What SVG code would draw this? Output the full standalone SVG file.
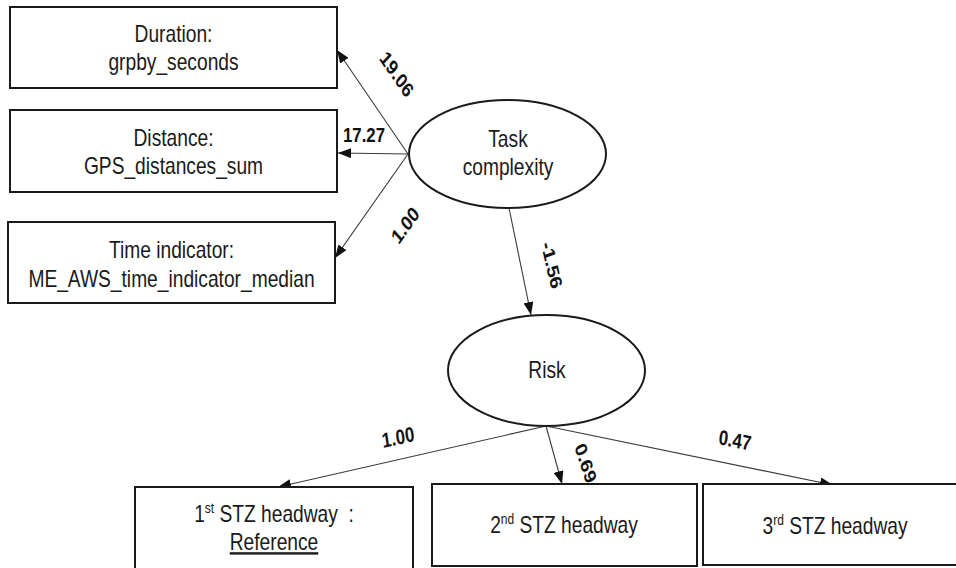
<svg xmlns="http://www.w3.org/2000/svg" width="956" height="568" viewBox="0 0 956 568">
  <style>
    .box { fill: #fff; stroke: #1a1a1a; stroke-width: 2; }
    .lat { fill: #fff; stroke: #1a1a1a; stroke-width: 2; }
    .t { font-family: "Liberation Sans", Arial, sans-serif; font-size: 24px; fill: #1a1a1a; text-anchor: middle; }
    .ts { font-family: "Liberation Sans", Arial, sans-serif; font-size: 24px; fill: #1a1a1a; text-anchor: middle; }
    .sup { font-size: 15px; }
    .w { font-family: "Liberation Sans", Arial, sans-serif; font-size: 21px; font-weight: bold; fill: #111; text-anchor: middle; }
    .edge { stroke: #3a3a3a; stroke-width: 1.1; fill: none; marker-end: url(#arr); }
  </style>
  <defs>
    <marker id="arr" markerUnits="userSpaceOnUse" markerWidth="14" markerHeight="10" refX="13" refY="5" orient="auto">
      <path d="M0,0 L13,5 L0,10 Z" fill="#111"/>
    </marker>
  </defs>

  <rect width="956" height="568" fill="#fff"/>

  <!-- connectors -->
  <g id="connectors">
    <line class="edge" x1="408" y1="154" x2="337" y2="50"/>
    <line class="edge" x1="408" y1="154" x2="338" y2="153"/>
    <line class="edge" x1="408" y1="154" x2="335" y2="258"/>
    <line class="edge" x1="509" y1="208" x2="531" y2="315"/>
    <line class="edge" x1="546" y1="426" x2="278" y2="487"/>
    <line class="edge" x1="546" y1="426" x2="562" y2="484"/>
    <line class="edge" x1="546" y1="426" x2="833" y2="485"/>
    <!-- path weights -->
    <text class="w" transform="translate(397,74) scale(0.8,1) rotate(49.5)" y="7.5">19.06</text>
    <text class="w" transform="translate(364,134) scale(0.8,1)" y="7.5">17.27</text>
    <text class="w" transform="translate(405,225) scale(0.8,1) rotate(-48.4)" y="7.5">1.00</text>
    <text class="w" transform="translate(552,265) scale(0.8,1) rotate(73.9)" y="7.5">-1.56</text>
    <text class="w" transform="translate(398,437) scale(0.8,1) rotate(-10.3)" y="7.5">1.00</text>
    <text class="w" transform="translate(586,463) scale(0.8,1) rotate(67.9)" y="7.5">0.69</text>
    <text class="w" transform="translate(735,440) scale(0.8,1) rotate(9.5)" y="7.5">0.47</text>
  </g>

  <!-- indicators of task complexity -->
  <g id="duration">
    <rect class="box" x="10" y="7" width="327" height="81"/>
    <text class="t" transform="translate(173.5,42) scale(0.8,1)">Duration:</text>
    <text class="t" transform="translate(173.5,70) scale(0.8,1)">grpby_seconds</text>
  </g>
  <g id="distance">
    <rect class="box" x="10" y="110" width="327" height="82"/>
    <text class="t" transform="translate(173.5,146) scale(0.8,1)">Distance:</text>
    <text class="t" transform="translate(173.5,174) scale(0.8,1)">GPS_distances_sum</text>
  </g>
  <g id="time-indicator">
    <rect class="box" x="8" y="222" width="327" height="81"/>
    <text class="t" transform="translate(171.5,258) scale(0.8,1)">Time indicator:</text>
    <text class="t" transform="translate(171.5,287) scale(0.8,1)">ME_AWS_time_indicator_median</text>
  </g>

  <!-- latent variables -->
  <g id="task-complexity">
    <ellipse class="lat" cx="507.5" cy="154" rx="98.5" ry="54"/>
    <text class="ts" transform="translate(508,147) scale(0.8,1)">Task</text>
    <text class="ts" transform="translate(508,175) scale(0.8,1)">complexity</text>
  </g>
  <g id="risk">
    <ellipse class="lat" cx="546.5" cy="370.5" rx="98.5" ry="55.5"/>
    <text class="ts" transform="translate(547,378) scale(0.8,1)">Risk</text>
  </g>

  <!-- STZ headway indicators -->
  <g id="stz1">
    <rect class="box" x="135" y="487" width="278" height="86"/>
    <text class="ts" transform="translate(274,522) scale(0.8,1)">1<tspan class="sup" dy="-9">st</tspan><tspan dy="9"> STZ headway&#160; :</tspan></text>
    <text class="ts" transform="translate(274,550) scale(0.8,1)" text-decoration="underline">Reference</text>
  </g>
  <g id="stz2">
    <rect class="box" x="432" y="484" width="265" height="82"/>
    <text class="ts" transform="translate(564,533) scale(0.8,1)">2<tspan class="sup" dy="-9">nd</tspan><tspan dy="9"> STZ headway</tspan></text>
  </g>
  <g id="stz3">
    <rect class="box" x="703" y="484" width="266" height="81"/>
    <text class="ts" transform="translate(835,534) scale(0.8,1)">3<tspan class="sup" dy="-9">rd</tspan><tspan dy="9"> STZ headway</tspan></text>
  </g>
</svg>
